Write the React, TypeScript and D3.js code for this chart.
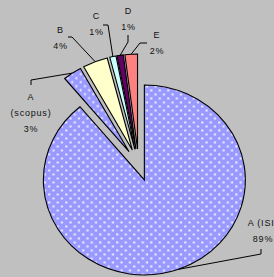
import React from 'react';
import * as d3 from 'd3';

const categories = ['A (ISI)', 'A (scopus)', 'B', 'C', 'D', 'E'];
const values = [89, 3, 4, 1, 1, 2];
const labelLines = [['A (ISI)'], ['A', '(scopus)'], ['B'], ['C'], ['D'], ['E']];
const percentLabels = ['89%', '3%', '4%', '1%', '1%', '2%'];

// layout (not data)
const fills = ['url(#dots)', 'url(#dots)', '#FFFFCC', '#CCFFFF', '#660066', '#FF8080'];
const labelLayout = [
  { x: 263, y: 225.5, elbow: [[261, 249], [261, 254]] },
  { x: 31, y: 100, elbow: [[31, 85], [31, 80]] },
  { x: 60.5, y: 32.5, elbow: [[68, 37], [72, 37]] },
  { x: 96.5, y: 19, elbow: [[103, 25], [108, 25]] },
  { x: 128.5, y: 14, elbow: [[128, 35], [128, 42]] },
  { x: 157, y: 37.5, elbow: [[147, 43], [140, 43]] },
];

const W = 274;
const H = 277;
const cx = 138.6;
const cy = 164.9;
const R = 95;
const SX = 1.063;
const EXPLODE = 16;
const LINE_H = 16;

export default function App() {
  const pie = d3.pie<number>().sort(null).startAngle(0).endAngle(2 * Math.PI);
  const arcs = pie(values);
  const arcGen = d3.arc<d3.PieArcDatum<number>>().innerRadius(0).outerRadius(R);

  return (
    <svg
      width={W}
      height={H}
      style={{ position: 'absolute', left: 0, top: 0, display: 'block' }}
      fontFamily="'Liberation Sans', Arial, sans-serif"
    >
      <defs>
        <pattern id="dots" patternUnits="userSpaceOnUse" width={8} height={8}>
          <rect width={8} height={8} fill="#9999FF" />
          <rect x={1.5} y={1.5} width={2} height={2} fill="#eeeeff" />
          <rect x={5.5} y={5.5} width={2} height={2} fill="#eeeeff" />
        </pattern>
      </defs>
      <rect width={W} height={H} fill="#C0C0C0" />
      {arcs.map((a, i) => {
        const mid = (a.startAngle + a.endAngle) / 2;
        const vx = cx + EXPLODE * Math.sin(mid) * SX;
        const vy = cy - EXPLODE * Math.cos(mid);
        return (
          <path
            key={categories[i]}
            d={arcGen(a) || ''}
            transform={`translate(${vx},${vy}) scale(${SX},1)`}
            fill={fills[i]}
            stroke="#000"
            strokeWidth={1.1}
            vectorEffect="non-scaling-stroke"
            strokeLinejoin="miter"
          />
        );
      })}
      {arcs.map((a, i) => {
        const mid = (a.startAngle + a.endAngle) / 2;
        const vx = cx + EXPLODE * Math.sin(mid) * SX;
        const vy = cy - EXPLODE * Math.cos(mid);
        const px = vx + SX * R * Math.sin(mid);
        const py = vy - R * Math.cos(mid);
        const L = labelLayout[i];
        const pts = [...L.elbow, [px, py]];
        const lines = [...labelLines[i], percentLabels[i]];
        return (
          <g key={'lbl' + i}>
            <polyline
              points={pts.map((p) => p.join(',')).join(' ')}
              fill="none"
              stroke="#000"
              strokeWidth={1}
            />
            {lines.map((t, j) => (
              <text
                key={j}
                x={L.x}
                y={L.y + j * LINE_H}
                textAnchor="middle"
                fontSize={9}
                letterSpacing={0.8}
                fill="#111"
              >
                {t}
              </text>
            ))}
          </g>
        );
      })}
    </svg>
  );
}
